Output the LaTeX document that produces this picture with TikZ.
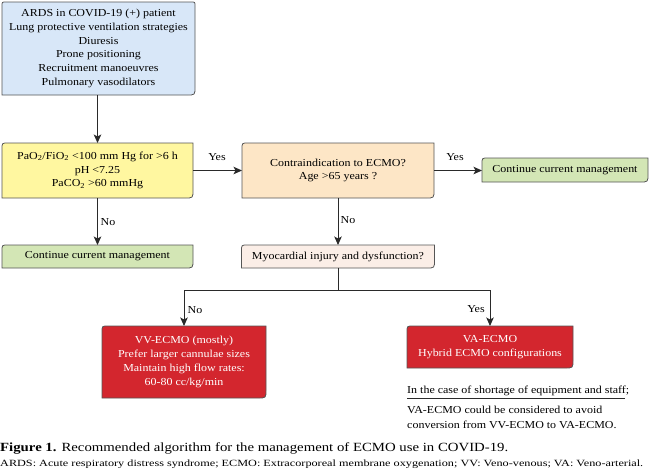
\documentclass[tikz,border=0pt]{standalone}
\usepackage{fontspec}
\setmainfont{Liberation Serif}[FakeStretch=1.12]
\usepackage{graphicx}
\usetikzlibrary{arrows.meta,backgrounds,calc}
\definecolor{cblue}{HTML}{D8E7F8}
\definecolor{cyellow}{HTML}{FFF7A0}
\definecolor{cgreen}{HTML}{D3E6B5}
\definecolor{corange}{HTML}{FDE6C6}
\definecolor{cpink}{HTML}{FBEEE7}
\definecolor{cred}{HTML}{D3262E}
\definecolor{cline}{HTML}{2A2A2A}
\definecolor{cborder}{HTML}{555555}
\newcommand\boxfont{\fontsize{10.7}{13.8}\selectfont}
\newcommand\cshape[6]{%
  \path[#1] ($(#2.north west)+(0,#3)$) .. controls (#2.north west) .. ($(#2.north west)+(#3,0)$)
   -- ($(#2.north east)+(-#4,0)$) .. controls (#2.north east) .. ($(#2.north east)+(0,#4)$)
   -- ($(#2.south east)+(0,-#5)$) .. controls (#2.south east) .. ($(#2.south east)+(-#5,0)$)
   -- ($(#2.south west)+(#6,0)$) .. controls (#2.south west) .. ($(#2.south west)+(0,-#6)$) -- cycle;}
\tikzset{
  box/.style={align=center, inner sep=0pt, outer sep=0pt, font=\boxfont, text=black},
  shp/.style={draw=cborder, line width=0.8pt, fill=#1},
  arr/.style={draw=cline, line width=0.9pt, -{Stealth[length=8.5pt,width=7.5pt,inset=2pt]}},
  conn/.style={draw=cline, line width=0.9pt},
  lbl/.style={font=\boxfont, inner sep=0pt, text=black},
}
\begin{document}
\begin{tikzpicture}[x=1pt,y=-1pt]
\useasboundingbox (0,0) rectangle (650,475);
% boxes
\node[box, minimum width=193, minimum height=93] (top) at (98.5,48.5)
  {ARDS in COVID-19 (+) patient\\Lung protective ventilation strategies\\Diuresis\\Prone positioning\\Recruitment manoeuvres\\Pulmonary vasodilators};
\node[box, minimum width=191, minimum height=55] (crit) at (97.5,170.5)
  {PaO\textsubscript{2}/FiO\textsubscript{2} <100 mm Hg for >6 h\\pH <7.25\\PaCO\textsubscript{2} >60 mmHg};
\node[box, minimum width=191, minimum height=23] (cont1) at (97.5,256.5) {Continue current management};
\node[box, minimum width=192, minimum height=55] (contra) at (338,170.5) {Contraindication to ECMO?\\Age >65 years ?};
\node[box, minimum width=166, minimum height=24] (cont2) at (565,170) {Continue current management};
\node[box, minimum width=193, minimum height=23] (myo) at (338,256.5) {Myocardial injury and dysfunction?};
\node[box, minimum width=164, minimum height=72, text=white] (vv) at (184,362)
  {VV-ECMO (mostly)\\Prefer larger cannulae sizes\\Maintain high flow rates:\\60-80 cc/kg/min};
\node[box, minimum width=166, minimum height=42, text=white] (va) at (490,347)
  {VA-ECMO\\Hybrid ECMO configurations};
\begin{pgfonlayer}{background}
  \cshape{shp=cblue}{top}{4}{4}{8}{0}
  \cshape{shp=cyellow}{crit}{6}{0}{8}{0}
  \cshape{shp=cgreen}{cont1}{6}{0}{8}{0}
  \cshape{shp=corange}{contra}{6}{0}{8}{0}
  \cshape{shp=cgreen}{cont2}{6}{0}{8}{0}
  \cshape{shp=cpink}{myo}{6}{0}{8}{0}
  \cshape{shp=cred}{vv}{6}{0}{8}{0}
  \cshape{shp=cred}{va}{6}{0}{8}{0}
\end{pgfonlayer}
% connectors
\draw[arr] (crit.north |- top.south) -- (crit.north);
\draw[arr] (crit.east) -- (contra.west);
\draw[arr] (crit.south) -- (cont1.north);
\draw[arr] (contra.east) -- (contra.east -| cont2.west);
\draw[arr] (contra.south) -- (myo.north);
\draw[conn] (myo.south) -- ++(0,22) coordinate (split);
\draw[arr] (split) -| (vv.north);
\draw[arr] (split) -| (va.north);
% labels
\node[lbl] (yes1) at (217,157) {Yes};
\node[lbl] (no1) at (108,222) {No};
\node[lbl] (yes2) at (455,157) {Yes};
\node[lbl] (no2) at (348,220) {No};
\node[lbl] (no3) at (195,310) {No};
\node[lbl] (yes3) at (476,309) {Yes};
% note
\node[lbl, anchor=base west] (noteh) at (407,393) {In the case of shortage of equipment and staff;};
\draw[cline, line width=0.8pt] ($(noteh.base west)+(0,5)$) coordinate (ul1) -- ($(noteh.base east)+(-4,5)$) coordinate (ul2);
\node[lbl, anchor=base west] (noteb1) at (407,413) {VA-ECMO could be considered to avoid};
\node[lbl, anchor=base west] (noteb2) at (407,428) {conversion from VV-ECMO to VA-ECMO.};
% caption
\node[lbl, anchor=base west, font=\fontsize{12.5}{14}\selectfont] (cap1) at (0,451)
  {\resizebox{508pt}{\height}{\textbf{Figure 1.} Recommended algorithm for the management of ECMO use in COVID-19.}};
\node[lbl, anchor=base west, font=\fontsize{9.5}{11}\selectfont] (cap2) at (0,466)
  {\resizebox{643pt}{\height}{ARDS: Acute respiratory distress syndrome; ECMO: Extracorporeal membrane oxygenation; VV: Veno-venous; VA: Veno-arterial.}};
\end{tikzpicture}
\end{document}
